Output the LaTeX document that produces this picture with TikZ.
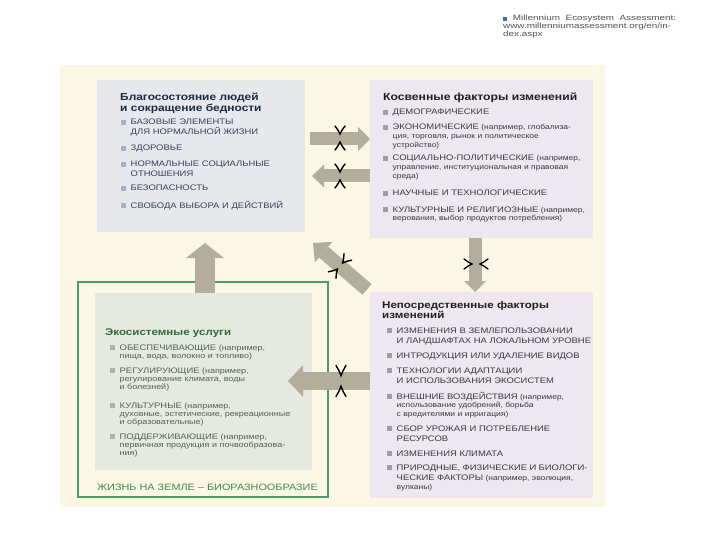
\documentclass[tikz,border=0pt]{standalone}
\usepackage{fontspec}
\setmainfont[FakeStretch=1.18]{Liberation Sans}
\newfontfamily\notefont[FakeStretch=1.3]{Liberation Sans}
\usetikzlibrary{arrows.meta}

\definecolor{cream}{HTML}{FBF7E4}
\definecolor{hwfill}{HTML}{E6E8EB}
\definecolor{indfill}{HTML}{EDE7EF}
\definecolor{ecofill}{HTML}{E5E9DF}
\definecolor{lifeline}{HTML}{4C9A64}
\definecolor{arrowc}{HTML}{B3AE9B}
\definecolor{hwtxt}{HTML}{34415C}
\definecolor{hwtitle}{HTML}{1C2A44}
\definecolor{hwbul}{HTML}{A3B3CC}
\definecolor{indtxt}{HTML}{3E3540}
\definecolor{indtitle}{HTML}{231C22}
\definecolor{indbul}{HTML}{A39AA3}
\definecolor{ecotxt}{HTML}{4E6355}
\definecolor{ecotitle}{HTML}{2F6A42}
\definecolor{ecobul}{HTML}{A9B5A4}
\definecolor{lifetxt}{HTML}{3B8B50}
\definecolor{notetxt}{HTML}{505050}
\definecolor{notebul}{HTML}{3C6EB4}

\newcommand\bc{hwbul}
\newcommand\bul{\textcolor{\bc}{\rule{5pt}{5pt}}\hspace{4.5pt}}
\newcommand\ind{\hspace*{9.5pt}}
\newcommand\cp[1]{{\fontsize{8}{8}\selectfont #1}}

\tikzset{
  panel/.style={anchor=north west, inner sep=0pt, outer sep=0pt},
  note/.style={anchor=base west, inner sep=0pt, align=left, text=notetxt,
    font=\notefont\fontsize{7.6}{8.2}\selectfont},
  title/.style={anchor=base west, inner sep=0pt, text width=220pt, align=left,
    font=\bfseries\fontsize{#1}{10.5}\selectfont},
  title/.default=9.8,
  capsitem/.style={anchor=base west, inner sep=0pt, text width=220pt, align=left,
    font=\fontsize{8}{10.8}\selectfont},
  mixitem/.style={anchor=base west, inner sep=0pt, text width=220pt, align=left,
    font=\fontsize{7.2}{8.6}\selectfont},
  onhw/.style={text=hwtxt, font=\fontsize{8}{9.2}\selectfont,
    execute at begin node=\def\bc{hwbul}},
  onind/.style={text=indtxt, execute at begin node=\def\bc{indbul}},
  oneco/.style={text=ecotxt, font=\fontsize{7.6}{8.1}\selectfont,
    execute at begin node=\def\bc{ecobul}},
  blockarrow/.style n args={3}{draw=arrowc, line width=#1,
    -{Triangle[length=#2, width=#3, line width=0pt]}},
  cutmark/.pic={
    \draw[line width=1.4pt, line cap=round]
      (-5,-12) .. controls (-3,-9) and (-1,-7) .. (0,-4)
      .. controls (1,-7) and (3,-9) .. (5,-12);
    \draw[line width=1.4pt, line cap=round]
      (-5,12) .. controls (-3,9) and (-1,7) .. (0,4)
      .. controls (1,7) and (3,9) .. (5,12);
  }
}

\begin{document}
\begin{tikzpicture}[x=1pt, y=-1pt]
  \useasboundingbox (0,0) rectangle (720,540);
  \fill[white] (0,0) rectangle (720,540);
  \fill[cream] (60,65) rectangle (605,507);

  \node[note] (src) at (503,37)
    {\makebox[173pt][s]{\textcolor{notebul}{\rule{4pt}{4pt}} Millennium Ecosystem Assessment:}\\
     www.millenniumassessment.org/en/in-\\dex.aspx};

  % boxes
  \node[panel, fill=hwfill, minimum width=208pt, minimum height=152pt] (hw) at (97,80) {};
  \node[panel, fill=indfill, minimum width=223pt, minimum height=158pt] (ind) at (370,80) {};
  \node[panel, fill=indfill, minimum width=223pt, minimum height=206pt] (dir) at (370,292) {};
  \node[panel, draw=lifeline, line width=1.4pt, minimum width=250pt, minimum height=215pt] (life) at (78,282) {};
  \node[panel, fill=ecofill, minimum width=217pt, minimum height=177pt] (eco) at (95,293) {};
  \coordinate (dtip) at (313,243);

  % human well-being
  \node[title=10.1, text=hwtitle] (hwt) at (120,101) {Благосостояние людей\\и сокращение бедности};
  \node[capsitem, onhw] (hw1) at (121,125) {\bul БАЗОВЫЕ ЭЛЕМЕНТЫ\\\ind ДЛЯ НОРМАЛЬНОЙ ЖИЗНИ};
  \node[capsitem, onhw] (hw2) at (121,151) {\bul ЗДОРОВЬЕ};
  \node[capsitem, onhw] (hw3) at (121,167) {\bul НОРМАЛЬНЫЕ СОЦИАЛЬНЫЕ\\\ind ОТНОШЕНИЯ};
  \node[capsitem, onhw] (hw4) at (121,191) {\bul БЕЗОПАСНОСТЬ};
  \node[capsitem, onhw] (hw5) at (121,208) {\bul СВОБОДА ВЫБОРА И ДЕЙСТВИЙ};

  % indirect drivers
  \node[title=10.3, text=indtitle] (indt) at (383,101) {Косвенные факторы изменений};
  \node[capsitem, onind] (ind1) at (383,115) {\bul ДЕМОГРАФИЧЕСКИЕ};
  \node[mixitem, onind] (ind2) at (383,130)
    {\bul\cp{ЭКОНОМИЧЕСКИЕ} (например, глобализа-\\\ind ция, торговля, рынок и политическое\\\ind устройство)};
  \node[mixitem, onind] (ind3) at (383,161)
    {\bul\cp{СОЦИАЛЬНО-ПОЛИТИЧЕСКИЕ} (например,\\\ind управление, институциональная и правовая\\\ind среда)};
  \node[capsitem, onind] (ind4) at (383,196) {\bul НАУЧНЫЕ И ТЕХНОЛОГИЧЕСКИЕ};
  \node[mixitem, onind] (ind5) at (383,212)
    {\bul\cp{КУЛЬТУРНЫЕ И РЕЛИГИОЗНЫЕ} (например,\\\ind верования, выбор продуктов потребления)};

  % direct drivers
  \node[title, text=indtitle] (dirt) at (382,308) {Непосредственные факторы\\изменений};
  \node[capsitem, onind] (dir1) at (387,333) {\bul ИЗМЕНЕНИЯ В ЗЕМЛЕПОЛЬЗОВАНИИ\\\ind И ЛАНДШАФТАХ НА ЛОКАЛЬНОМ УРОВНЕ};
  \node[capsitem, onind] (dir2) at (387,358) {\bul ИНТРОДУКЦИЯ ИЛИ УДАЛЕНИЕ ВИДОВ};
  \node[capsitem, onind] (dir3) at (387,373) {\bul ТЕХНОЛОГИИ АДАПТАЦИИ\\\ind И ИСПОЛЬЗОВАНИЯ ЭКОСИСТЕМ};
  \node[mixitem, onind] (dir4) at (387,399)
    {\bul\cp{ВНЕШНИЕ ВОЗДЕЙСТВИЯ} (например,\\\ind использование удобрений, борьба\\\ind с вредителями и ирригация)};
  \node[capsitem, onind] (dir5) at (387,431) {\bul СБОР УРОЖАЯ И ПОТРЕБЛЕНИЕ\\\ind РЕСУРСОВ};
  \node[capsitem, onind] (dir6) at (387,456) {\bul ИЗМЕНЕНИЯ КЛИМАТА};
  \node[mixitem, onind] (dir7) at (387,470)
    {\bul\cp{ПРИРОДНЫЕ, ФИЗИЧЕСКИЕ И БИОЛОГИ-}\\[2pt]\ind\cp{ЧЕСКИЕ ФАКТОРЫ} (например, эволюция,\\\ind вулканы)};

  % ecosystem services
  \node[title, text=ecotitle] (ecot) at (105,335) {Экосистемные услуги};
  \node[mixitem, oneco] (eco1) at (110,350)
    {\bul\cp{ОБЕСПЕЧИВАЮЩИЕ} (например,\\\ind пища, вода, волокно и топливо)};
  \node[mixitem, oneco] (eco2) at (110,373)
    {\bul\cp{РЕГУЛИРУЮЩИЕ} (например,\\\ind регулирование климата, воды\\\ind и болезней)};
  \node[mixitem, oneco] (eco3) at (110,408)
    {\bul\cp{КУЛЬТУРНЫЕ} (например,\\\ind духовные, эстетические, рекреационные\\\ind и образовательные)};
  \node[mixitem, oneco] (eco4) at (110,439)
    {\bul\cp{ПОДДЕРЖИВАЮЩИЕ} (например,\\\ind первичная продукция и почвообразова-\\\ind ния)};
  \node[capsitem, text width=240pt, text=lifetxt, font=\fontsize{9.2}{10}\selectfont] (lifet) at (97,490)
    {ЖИЗНЬ НА ЗЕМЛЕ – БИОРАЗНООБРАЗИЕ};

  % arrows
  \draw[blockarrow={13pt}{12pt}{24pt}, shorten <=5pt] (hw.east |- 0,139) -- (ind.west |- 0,139);
  \draw[blockarrow={13pt}{12pt}{23pt}, shorten >=7pt] (ind.west |- 0,176) -- (hw.east |- 0,176);
  \draw[blockarrow={14pt}{14pt}{27pt}, shorten <=4pt] (dir.north west) -- (dtip);
  \draw[blockarrow={13pt}{11pt}{22pt}] (ind.south -| 475,0) -- (dir.north -| 475,0);
  \draw[blockarrow={20pt}{15pt}{38pt}, shorten >=11pt] (eco.north -| 205,0) -- (hw.south -| 205,0);
  \draw[blockarrow={18pt}{15pt}{32pt}, shorten >=-24pt] (dir.west |- 0,381) -- (eco.east |- 0,381);

  \pic at (340,138) {cutmark};
  \pic at (340,176) {cutmark};
  \pic[rotate=-40.7] at (340,266) {cutmark};
  \pic[rotate=90] at (476,264) {cutmark};
  \pic[yscale=1.3] at (341,381) {cutmark};
\end{tikzpicture}
\end{document}
